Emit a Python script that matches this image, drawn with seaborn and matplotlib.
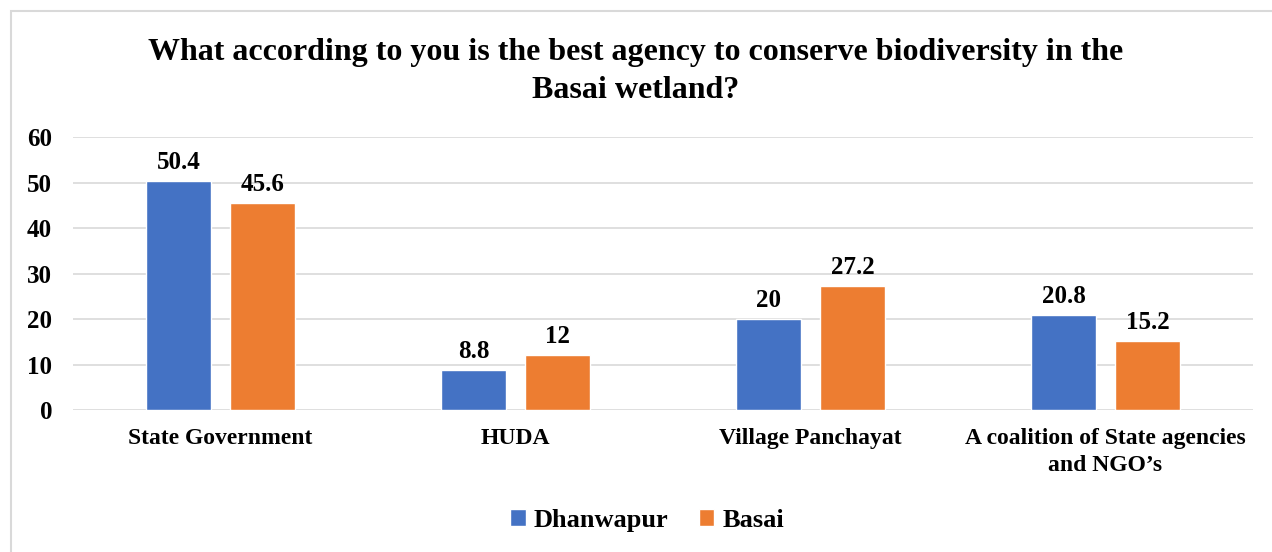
import matplotlib
matplotlib.use("Agg")
import matplotlib.pyplot as plt
from matplotlib.patches import Rectangle
import seaborn as sns
import pandas as pd

categories = ["State Government", "HUDA", "Village Panchayat",
              "A coalition of State agencies\nand NGO\u2019s"]
dhanwapur = [50.4, 8.8, 20, 20.8]
basai = [45.6, 12, 27.2, 15.2]
series_names = ["Dhanwapur", "Basai"]
colors = ["#4472C4", "#ED7D31"]
yticks = [0, 10, 20, 30, 40, 50, 60]

df = pd.DataFrame({
    "Agency": categories * 2,
    "Percent": dhanwapur + basai,
    "Village": [series_names[0]] * len(categories) + [series_names[1]] * len(categories),
})

sns.set_theme(style="white")
plt.rcParams["font.family"] = ["Liberation Serif", "DejaVu Serif"]
plt.rcParams["font.weight"] = "bold"
plt.rcParams["text.color"] = "black"
plt.rcParams["xtick.color"] = "black"
plt.rcParams["ytick.color"] = "black"

fig = plt.figure(figsize=(12.72, 5.52), dpi=100)
ax = fig.add_axes([0.0574, 0.2572, 0.9276, 0.4946])

sns.barplot(data=df, x="Agency", y="Percent", hue="Village",
            palette=colors, width=0.569, gap=0.227, ax=ax,
            saturation=1, errorbar=None)

for cont in ax.containers:
    labels = [f"{v:g}" for v in cont.datavalues]
    ax.bar_label(cont, labels=labels, padding=5, fontsize=18, fontweight="bold",
                 color="black")

ax.set_ylim(0, 60)
ax.set_xlim(-0.5, 3.5)
ax.set_yticks(yticks)
ax.set_yticklabels([str(t) for t in yticks], fontsize=18, fontweight="bold")
ax.set_xticklabels(categories, fontsize=17, fontweight="bold", linespacing=1.4)
ax.tick_params(axis="x", length=0, pad=13)
ax.tick_params(axis="y", length=0, pad=15)
ax.set_xlabel("")
ax.set_ylabel("")
ax.grid(axis="y", color="#D9D9D9", linewidth=1.2)
ax.set_axisbelow(True)
for s in ax.spines.values():
    s.set_visible(False)

leg = ax.legend(loc="center", bbox_to_anchor=(0.4864, -0.405), ncol=2, frameon=False,
                prop={"size": 19, "weight": "bold"}, handlelength=0.6,
                handleheight=0.6, handletextpad=0.3, columnspacing=1.15)

fig.text(0.5, 0.871, "What according to you is the best agency to conserve biodiversity in the\nBasai wetland?",
         ha="center", va="center", fontsize=23, fontweight="bold", linespacing=1.42,
         color="black")

fig.patches.append(Rectangle((11 / 1272, -0.1), 1.2, 1.1 - 11 / 552,
                             transform=fig.transFigure, fill=False,
                             edgecolor="#D9D9D9", linewidth=1.5))

fig.savefig("out.png", dpi=100, facecolor="white")
